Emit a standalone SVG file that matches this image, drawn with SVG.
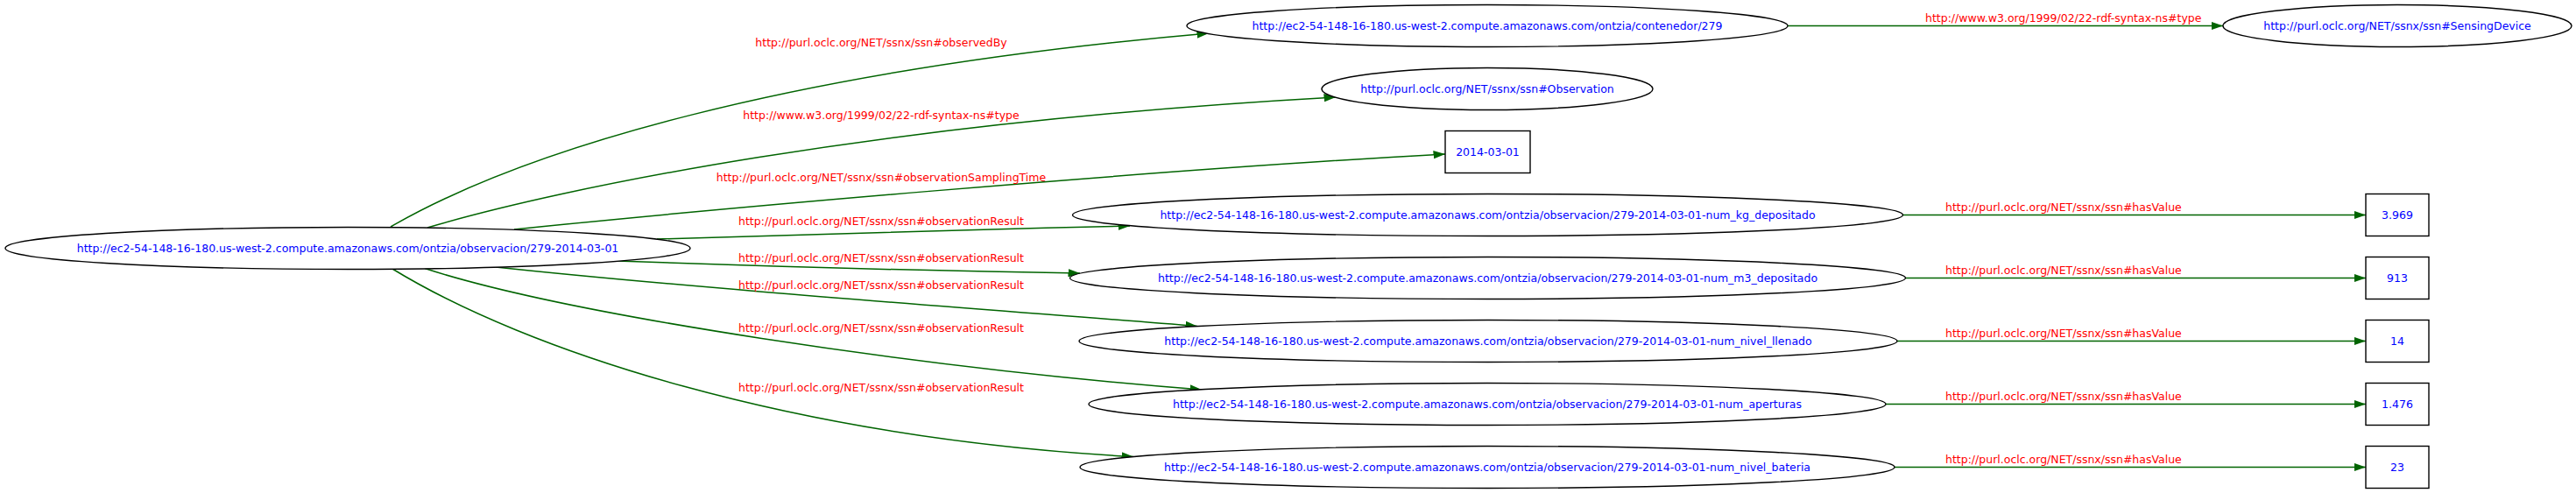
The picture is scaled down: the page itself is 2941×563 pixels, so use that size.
<svg xmlns="http://www.w3.org/2000/svg" width="2941" height="563" viewBox="0 0 2941 563">
<style>
.bg{fill:#ffffff}
.node ellipse,.node rect{fill:#ffffff;stroke:#000000;stroke-width:1.4}
.nl{font-family:"DejaVu Sans","Liberation Sans",sans-serif;font-size:12.5px;fill:#0000ff;text-anchor:middle}
.el{font-family:"DejaVu Sans","Liberation Sans",sans-serif;font-size:12.5px;fill:#ff0000}
.edge{fill:none;stroke:#006400;stroke-width:1.5;marker-end:url(#arr)}
</style>
<defs>
<marker id="arr" markerUnits="userSpaceOnUse" viewBox="0 0 13.5 9.4" markerWidth="13.5" markerHeight="9.4" refX="13.5" refY="4.7" orient="auto">
<polygon points="0,0 13.5,4.7 0,9.4" fill="#006400"/>
</marker>
</defs>
<rect class="bg" x="0" y="0" width="2941" height="563"/>
<g id="edges">
<path class="edge" d="M446,259 C600,170 900,80 1380,38"/>
<text class="el" x="1006" y="53" text-anchor="middle">http://purl.oclc.org/NET/ssnx/ssn#observedBy</text>
<path class="edge" d="M488,260 C640,215 1000,140 1525,111"/>
<text class="el" x="1006" y="136" text-anchor="middle">http://www.w3.org/1999/02/22-rdf-syntax-ns#type</text>
<path class="edge" d="M587,262 C800,240 1300,195 1650,176"/>
<text class="el" x="1006" y="207" text-anchor="middle">http://purl.oclc.org/NET/ssnx/ssn#observationSamplingTime</text>
<path class="edge" d="M750,273 C900,268 1100,262 1290,258"/>
<text class="el" x="1006" y="257" text-anchor="middle">http://purl.oclc.org/NET/ssnx/ssn#observationResult</text>
<path class="edge" d="M704,298 C900,305 1100,310 1233,312"/>
<text class="el" x="1006" y="298.5" text-anchor="middle">http://purl.oclc.org/NET/ssnx/ssn#observationResult</text>
<path class="edge" d="M566,305 C800,330 1150,355 1367,372.5"/>
<text class="el" x="1006" y="329.5" text-anchor="middle">http://purl.oclc.org/NET/ssnx/ssn#observationResult</text>
<path class="edge" d="M485,306.5 C650,360 1050,420 1372,445"/>
<text class="el" x="1006" y="379" text-anchor="middle">http://purl.oclc.org/NET/ssnx/ssn#observationResult</text>
<path class="edge" d="M448,307 C600,400 900,500 1294,521.6"/>
<text class="el" x="1006" y="447" text-anchor="middle">http://purl.oclc.org/NET/ssnx/ssn#observationResult</text>
<path class="edge" d="M2041,29.5 L2538,29.5"/>
<text class="el" x="2198" y="25">http://www.w3.org/1999/02/22-rdf-syntax-ns#type</text>
<path class="edge" d="M2172.5,245.5 L2701,245.5"/>
<text class="el" x="2221" y="240.5">http://purl.oclc.org/NET/ssnx/ssn#hasValue</text>
<path class="edge" d="M2175.5,317.5 L2701,317.5"/>
<text class="el" x="2221" y="312.5">http://purl.oclc.org/NET/ssnx/ssn#hasValue</text>
<path class="edge" d="M2166,389.5 L2701,389.5"/>
<text class="el" x="2221" y="384.5">http://purl.oclc.org/NET/ssnx/ssn#hasValue</text>
<path class="edge" d="M2153,461.5 L2701,461.5"/>
<text class="el" x="2221" y="456.5">http://purl.oclc.org/NET/ssnx/ssn#hasValue</text>
<path class="edge" d="M2163,533.5 L2701,533.5"/>
<text class="el" x="2221" y="528.5">http://purl.oclc.org/NET/ssnx/ssn#hasValue</text>
</g>
<g id="n_obs" class="node"><ellipse cx="397" cy="283.5" rx="391" ry="24"/><text class="nl" x="397" y="288">http://ec2-54-148-16-180.us-west-2.compute.amazonaws.com/ontzia/observacion/279-2014-03-01</text></g>
<g id="n_contenedor" class="node"><ellipse cx="1698" cy="29.5" rx="343" ry="24"/><text class="nl" x="1698" y="34">http://ec2-54-148-16-180.us-west-2.compute.amazonaws.com/ontzia/contenedor/279</text></g>
<g id="n_sensing" class="node"><ellipse cx="2737" cy="29.5" rx="199" ry="24"/><text class="nl" x="2737" y="34">http://purl.oclc.org/NET/ssnx/ssn#SensingDevice</text></g>
<g id="n_observation" class="node"><ellipse cx="1698" cy="101.5" rx="189" ry="24"/><text class="nl" x="1698" y="106">http://purl.oclc.org/NET/ssnx/ssn#Observation</text></g>
<g id="n_date" class="node"><rect x="1650" y="149.5" width="97" height="48"/><text class="nl" x="1698.5" y="178">2014-03-01</text></g>
<g id="n_kg" class="node"><ellipse cx="1698.5" cy="245.5" rx="474" ry="24"/><text class="nl" x="1698.5" y="250">http://ec2-54-148-16-180.us-west-2.compute.amazonaws.com/ontzia/observacion/279-2014-03-01-num_kg_depositado</text></g>
<g id="n_m3" class="node"><ellipse cx="1698.5" cy="317.5" rx="477" ry="24"/><text class="nl" x="1698.5" y="322">http://ec2-54-148-16-180.us-west-2.compute.amazonaws.com/ontzia/observacion/279-2014-03-01-num_m3_depositado</text></g>
<g id="n_llenado" class="node"><ellipse cx="1699" cy="389.5" rx="467" ry="24"/><text class="nl" x="1699" y="394">http://ec2-54-148-16-180.us-west-2.compute.amazonaws.com/ontzia/observacion/279-2014-03-01-num_nivel_llenado</text></g>
<g id="n_aperturas" class="node"><ellipse cx="1698" cy="461.5" rx="455" ry="24"/><text class="nl" x="1698" y="466">http://ec2-54-148-16-180.us-west-2.compute.amazonaws.com/ontzia/observacion/279-2014-03-01-num_aperturas</text></g>
<g id="n_bateria" class="node"><ellipse cx="1698" cy="533.5" rx="465" ry="24"/><text class="nl" x="1698" y="538">http://ec2-54-148-16-180.us-west-2.compute.amazonaws.com/ontzia/observacion/279-2014-03-01-num_nivel_bateria</text></g>
<g id="n_v1" class="node"><rect x="2701" y="221.5" width="72" height="48"/><text class="nl" x="2737" y="250">3.969</text></g>
<g id="n_v2" class="node"><rect x="2701" y="293.5" width="72" height="48"/><text class="nl" x="2737" y="322">913</text></g>
<g id="n_v3" class="node"><rect x="2701" y="365.5" width="72" height="48"/><text class="nl" x="2737" y="394">14</text></g>
<g id="n_v4" class="node"><rect x="2701" y="437.5" width="72" height="48"/><text class="nl" x="2737" y="466">1.476</text></g>
<g id="n_v5" class="node"><rect x="2701" y="509.5" width="72" height="48"/><text class="nl" x="2737" y="538">23</text></g>
</svg>
